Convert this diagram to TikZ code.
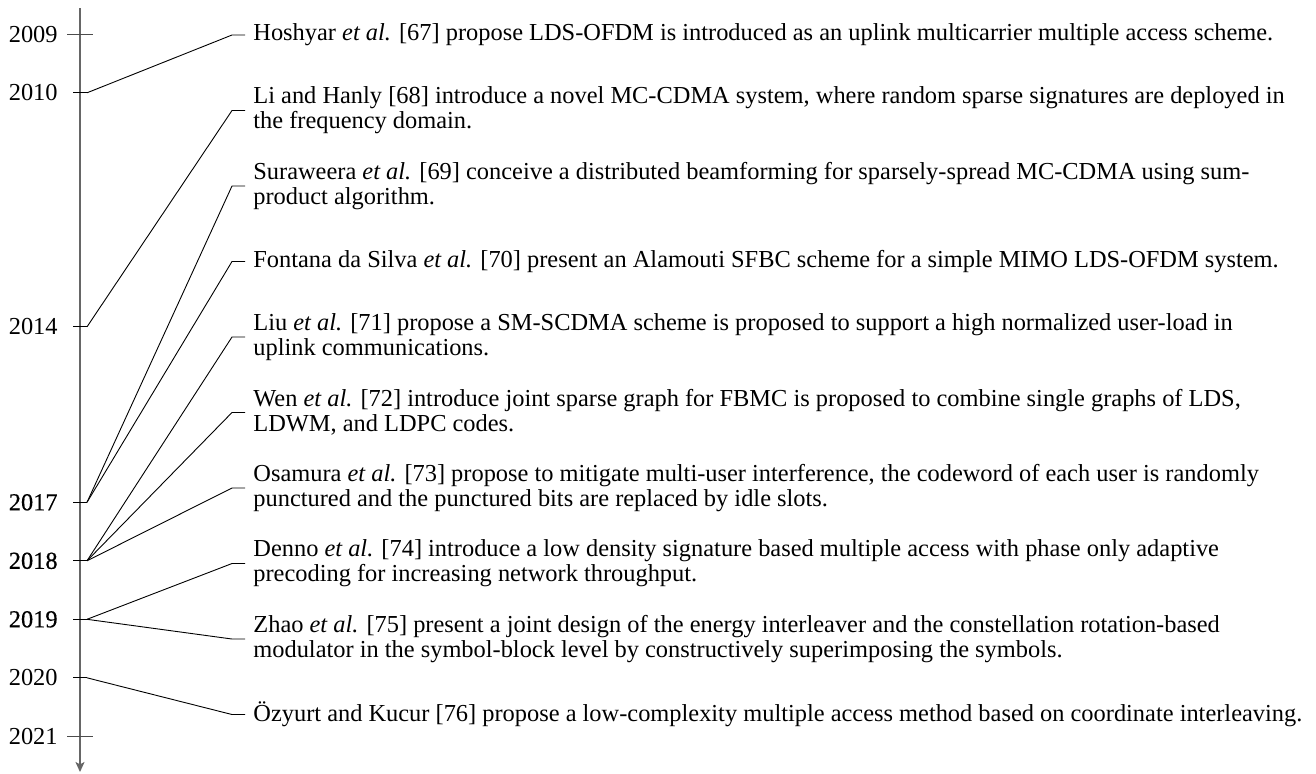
\documentclass[tikz,border=0pt]{standalone}
\usepackage{fontspec}
\setmainfont{Liberation Serif}
% years carrying several entries are printed darker
\newfontfamily\yearmid{Liberation Serif}[FakeBold=0.35]
\newfontfamily\yearheavy{Liberation Serif}[FakeBold=0.6]
\usetikzlibrary{arrows.meta}

\begin{document}
\begin{tikzpicture}[x=0.5pt,y=-0.5pt,
  every node/.style={font=\fontsize{12.2}{12.6}\selectfont},
  event/.style={anchor=west, inner sep=4pt, align=left},
  yearlabel/.style={anchor=east, inner sep=0pt},
  axisline/.style={draw=black!60, line width=0.75pt},
  link/.style={draw=black, line width=0.45pt},
  fulltick/.style={draw=black!70, line width=0.6pt},
  halftick/.style={draw=black, line width=0.6pt}]

\useasboundingbox (0,0) rectangle (1316,773);

% time axis
\coordinate (axtop) at (80,8);
\coordinate (axend) at (80,772);
\draw[axisline, -{Stealth[length=5pt,width=4.5pt,inset=1.2pt]}] (axtop) -- (axend);

% year labels
\node[yearlabel] (y2009) at (58,34.3)  {2009};
\node[yearlabel] (y2010) at (58,92.8)  {2010};
\node[yearlabel] (y2014) at (58,326.8) {2014};
\node[yearlabel] (y2017) at (58,502.3) {\yearmid 2017};
\node[yearlabel] (y2018) at (58,560.8) {\yearheavy 2018};
\node[yearlabel] (y2019) at (58,619.3) {\yearmid 2019};
\node[yearlabel] (y2020) at (58,677.8) {2020};
\node[yearlabel] (y2021) at (58,736.3) {2021};

% plain ticks at both ends of the axis
\draw[fulltick] (67,34.3) -- (93,34.3);
\draw[fulltick] (67,736.3) -- (93,736.3);

% ticks that carry entries (right end feeds the connectors)
\foreach \nm/\yy in {2010/92.8, 2014/326.8, 2017/502.3, 2018/560.8, 2019/619.3, 2020/677.8}{
  \coordinate (t\nm) at (87,\yy);
  \draw[halftick] (73,\yy) -- (t\nm);
}

% entries
\node[event] (e1)  at (245,35)    {Hoshyar \textit{et al.} [67] propose LDS-OFDM is introduced as an uplink multicarrier multiple access scheme.};
\node[event] (e2)  at (245,110.5) {Li and Hanly [68] introduce a novel MC-CDMA system, where random sparse signatures are deployed in\\the frequency domain.};
\node[event] (e3)  at (245,186)   {Suraweera \textit{et al.} [69] conceive a distributed beamforming for sparsely-spread MC-CDMA using sum-\\product algorithm.};
\node[event] (e4)  at (245,261.5) {Fontana da Silva \textit{et al.} [70] present an Alamouti SFBC scheme for a simple MIMO LDS-OFDM system.};
\node[event] (e5)  at (245,337)   {Liu \textit{et al.} [71] propose a SM-SCDMA scheme is proposed to support a high normalized user-load in\\uplink communications.};
\node[event] (e6)  at (245,412.5) {Wen \textit{et al.} [72] introduce joint sparse graph for FBMC is proposed to combine single graphs of LDS,\\LDWM, and LDPC codes.};
\node[event] (e7)  at (245,488)   {Osamura \textit{et al.} [73] propose to mitigate multi-user interference, the codeword of each user is randomly\\punctured and the punctured bits are replaced by idle slots.};
\node[event] (e8)  at (245,563.5) {Denno \textit{et al.} [74] introduce a low density signature based multiple access with phase only adaptive\\precoding for increasing network throughput.};
\node[event] (e9)  at (245,639)   {Zhao \textit{et al.} [75] present a joint design of the energy interleaver and the constellation rotation-based\\modulator in the symbol-block level by constructively superimposing the symbols.};
\node[event] (e10) at (245,714.5) {Özyurt and Kucur [76] propose a low-complexity multiple access method based on coordinate interleaving.};

% connectors: tick -> bend -> entry
\foreach \src/\dst in {2010/e1, 2014/e2, 2017/e3, 2017/e4, 2018/e5, 2018/e6, 2018/e7, 2019/e8, 2019/e9, 2020/e10}{
  \draw[link] (t\src) -- ([xshift=-6.5pt]\dst.west) -- (\dst.west);
}
\end{tikzpicture}
\end{document}
